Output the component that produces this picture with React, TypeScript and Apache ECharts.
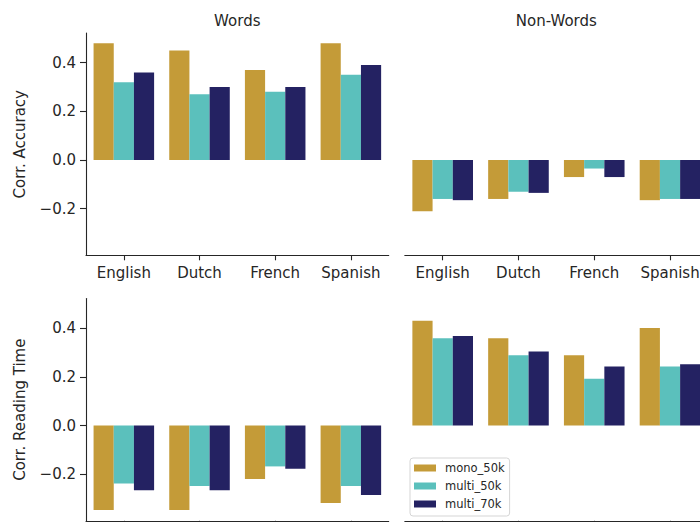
import React, { useEffect, useRef } from "react";
import * as echarts from "echarts";

const categories = ["English", "Dutch", "French", "Spanish"];
const seriesNames = ["mono_50k", "multi_50k", "multi_70k"];
const seriesColors = ["#C49B38", "#5BC0BC", "#242262"];

// Corr. Accuracy – Words
const accWordsMono = [0.48, 0.45, 0.37, 0.48];
const accWordsMulti50 = [0.32, 0.27, 0.28, 0.35];
const accWordsMulti70 = [0.36, 0.3, 0.3, 0.39];
// Corr. Accuracy – Non-Words
const accNonMono = [-0.21, -0.16, -0.07, -0.165];
const accNonMulti50 = [-0.16, -0.13, -0.035, -0.16];
const accNonMulti70 = [-0.165, -0.135, -0.07, -0.16];
// Corr. Reading Time – Words
const rtWordsMono = [-0.347, -0.347, -0.22, -0.318];
const rtWordsMulti50 = [-0.238, -0.248, -0.168, -0.248];
const rtWordsMulti70 = [-0.266, -0.266, -0.178, -0.286];
// Corr. Reading Time – Non-Words
const rtNonMono = [0.43, 0.359, 0.289, 0.401];
const rtNonMulti50 = [0.359, 0.289, 0.192, 0.242];
const rtNonMulti70 = [0.368, 0.304, 0.242, 0.252];

const yTicks = [-0.2, 0, 0.2, 0.4];
const yMin = -0.3915;
const yMax = 0.5215;
const panelTitles = ["Words", "Non-Words"];
const rowLabels = ["Corr. Accuracy", "Corr. Reading Time"];

const panelData = [
  [accWordsMono, accWordsMulti50, accWordsMulti70],
  [accNonMono, accNonMulti50, accNonMulti70],
  [rtWordsMono, rtWordsMulti50, rtWordsMulti70],
  [rtNonMono, rtNonMulti50, rtNonMulti70],
];

const FONT = "DejaVu Sans";
const TXT = "#262626";
const FS = 15;

export default function App() {
  const ref = useRef<HTMLDivElement>(null);
  useEffect(() => {
    if (!ref.current) return;
    const chart = echarts.init(ref.current, null, { renderer: "svg" });
    const grids = [
      { left: 86, top: 33.1, width: 302.7, height: 222.2 },
      { left: 404.8, top: 33.1, width: 303.1, height: 222.2 },
      { left: 86, top: 298.6, width: 302.7, height: 222.2 },
      { left: 404.8, top: 298.6, width: 303.1, height: 222.2 },
    ];
    const fmt = (v: number) => {
      const s = Math.abs(v).toFixed(1);
      return v < -1e-9 ? "\u2212" + s : s;
    };
    const xAxes = grids.map((_, i) => ({
      type: "category",
      gridIndex: i,
      data: categories,
      axisLine: { show: true, onZero: false, lineStyle: { color: TXT, width: 1.1 } },
      axisTick: { show: true, interval: 0, alignWithLabel: true, length: 5, lineStyle: { color: TXT, width: 1.1 } },
      axisLabel: {
        show: i < 2,
        interval: 0,
        hideOverlap: false,
        margin: 10,
        color: TXT,
        fontFamily: FONT,
        fontSize: FS,
      },
      splitLine: { show: false },
    }));
    const yAxes = grids.map((_, i) => {
      const left = i % 2 === 0;
      return {
        type: "value",
        gridIndex: i,
        min: yMin,
        max: yMax,
        show: left,
        name: left ? rowLabels[Math.floor(i / 2)] : "",
        nameLocation: "middle",
        nameGap: 59,
        nameTextStyle: { color: TXT, fontFamily: FONT, fontSize: FS },
        axisLine: { show: true, lineStyle: { color: TXT, width: 1.1 } },
        axisTick: { show: true, length: 6, customValues: yTicks, lineStyle: { color: TXT, width: 1.1 } },
        axisLabel: {
          customValues: yTicks,
          formatter: fmt,
          margin: 10,
          color: TXT,
          fontFamily: FONT,
          fontSize: FS,
        },
        splitLine: { show: false },
      };
    });
    const series: any[] = [];
    panelData.forEach((group, i) => {
      group.forEach((vals, k) => {
        series.push({
          type: "bar",
          name: seriesNames[k],
          xAxisIndex: i,
          yAxisIndex: i,
          data: vals,
          barWidth: "26.6667%",
          barGap: "0%",
          itemStyle: { color: seriesColors[k] },
        });
      });
    });
    chart.setOption({
      animation: false,
      backgroundColor: "#ffffff",
      grid: grids,
      xAxis: xAxes,
      yAxis: yAxes,
      series,
      legend: {
        data: seriesNames.map((n) => ({ name: n, icon: "rect" })),
        orient: "vertical",
        left: 410,
        top: 458,
        itemWidth: 22,
        itemHeight: 7,
        itemGap: 6,
        padding: [4, 5, 6, 4],
        borderColor: "#d5d5d5",
        borderWidth: 1,
        borderRadius: 3,
        backgroundColor: "rgba(255,255,255,0.85)",
        selectedMode: false,
        textStyle: { color: TXT, fontFamily: FONT, fontSize: 11.5, padding: [0, 0, 0, 4] },
      },
      graphic: panelTitles.map((t, j) => ({
        type: "text",
        x: j === 0 ? 237.3 : 556.3,
        y: 21,
        style: {
          text: t,
          align: "center",
          verticalAlign: "middle",
          fill: TXT,
          font: `${FS}px "${FONT}"`,
        },
      })),
    });
    return () => chart.dispose();
  }, []);
  return (
    <div style={{ position: "fixed", left: 0, top: 0, width: 700, height: 522, overflow: "hidden", background: "#fff" }}>
      <div ref={ref} style={{ width: 720, height: 522 }} />
    </div>
  );
}
